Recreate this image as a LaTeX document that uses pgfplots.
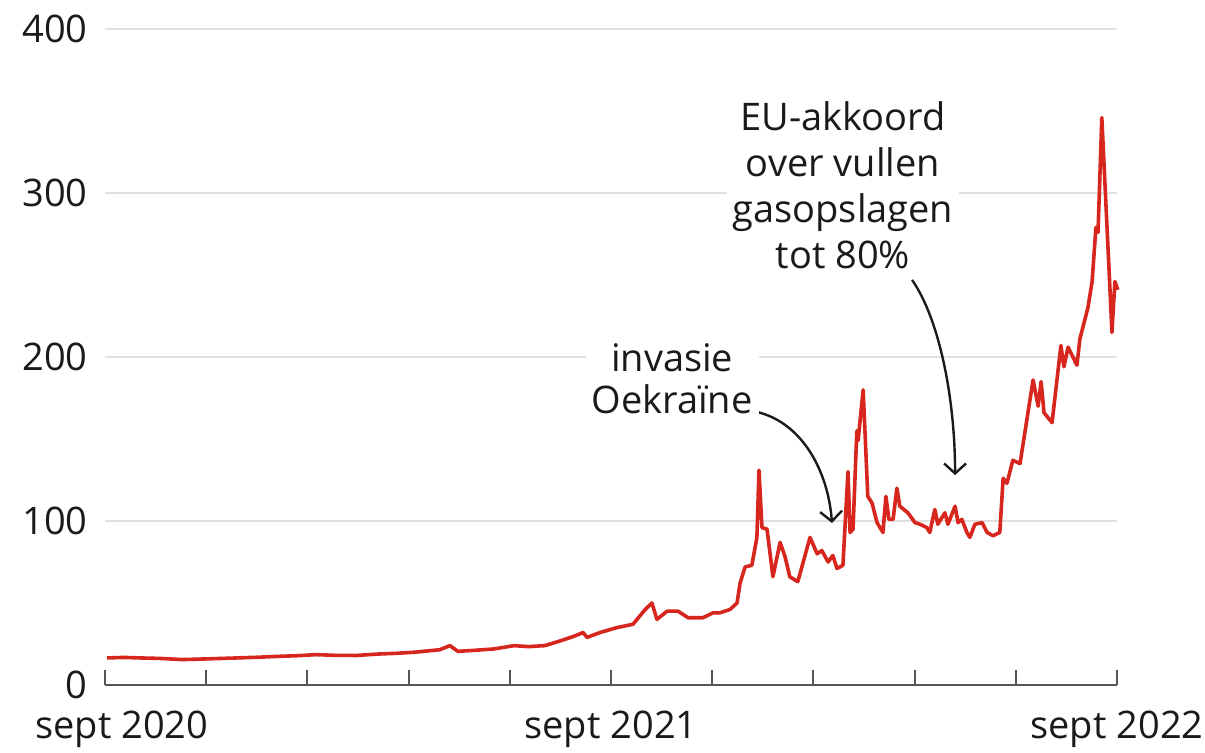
\documentclass[border=0pt]{standalone}
\usepackage{pgfplots}
\pgfplotsset{compat=1.18}
\usepackage{fontspec}
\setmainfont{Open Sans}
\usetikzlibrary{arrows.meta}
\definecolor{linered}{HTML}{D7261E}
\definecolor{gridgray}{HTML}{E0E0E0}
\definecolor{axisgray}{HTML}{555555}
\definecolor{txt}{HTML}{1A1A1A}

\pgfplotstableread{
m v
0.05 16.5
0.45 16.8
0.83 16.5
1.30 16.2
1.83 15.5
2.40 15.9
3.13 16.5
3.60 16.9
4.15 17.5
4.60 17.9
5.00 18.5
5.45 18.1
5.95 18.0
6.50 18.9
6.90 19.3
7.35 20.0
7.94 21.5
8.18 24.0
8.37 20.5
8.80 21.2
9.23 22.0
9.70 24.0
10.05 23.4
10.43 24.0
10.81 27.0
11.10 29.5
11.34 32.0
11.43 29.0
11.74 32.0
12.14 35.0
12.52 37.0
12.81 46.0
12.97 50.0
13.09 40.0
13.33 45.0
13.59 45.0
13.83 41.0
14.04 41.0
14.18 41.0
14.42 44.0
14.58 44.0
14.82 46.0
14.99 50.0
15.06 62.0
15.18 72.0
15.34 73.0
15.46 90.0
15.51 131.0
15.58 96.0
15.70 95.0
15.84 66.0
16.01 87.0
16.13 78.0
16.24 66.0
16.43 63.0
16.72 90.0
16.89 80.0
17.00 82.0
17.15 75.0
17.26 79.0
17.36 71.0
17.50 73.0
17.62 130.0
17.67 93.0
17.74 95.0
17.83 155.0
17.86 149.0
17.98 180.0
18.09 115.0
18.19 111.0
18.31 99.0
18.45 93.0
18.52 115.0
18.59 101.0
18.69 101.0
18.78 120.0
18.85 109.0
19.04 105.0
19.21 99.0
19.33 98.0
19.49 96.0
19.56 93.0
19.68 107.0
19.75 98.0
19.92 105.0
19.99 98.0
20.16 109.0
20.23 99.0
20.32 101.0
20.44 93.0
20.51 90.0
20.63 98.0
20.80 99.0
20.92 93.0
21.06 91.0
21.22 93.0
21.30 126.0
21.39 123.0
21.53 137.0
21.70 135.0
22.01 186.0
22.13 170.0
22.20 185.0
22.27 166.0
22.46 160.0
22.67 207.0
22.74 194.0
22.84 206.0
23.05 195.0
23.12 211.0
23.31 230.0
23.41 246.0
23.50 279.0
23.55 276.0
23.64 346.0
23.83 243.0
23.88 215.0
23.95 246.0
24.02 241.0
}\gasdata

\begin{document}
\begin{tikzpicture}
\begin{axis}[
  scale only axis, width=506pt, height=328pt,
  xmin=0, xmax=24, ymin=0, ymax=400,
  clip=false,
  axis x line=bottom, axis y line=left,
  axis line style={-},
  x axis line style={axisgray, line width=1pt},
  y axis line style={draw=none},
  ytick={0,100,200,300,400},
  yticklabels={0,100,200,300,400},
  ytick style={draw=none},
  ymajorgrids, grid style={gridgray, line width=1pt},
  xtick={0,2.4,4.8,7.2,9.6,12,14.4,16.8,19.2,21.6,24},
  xticklabels={\hspace{17pt}sept 2020,,,,,sept 2021,,,,,sept 2022},
  xtick style={axisgray, line width=1pt},
  tick align=inside, major tick length=7.5pt,
  tick label style={font=\fontsize{19}{19}\selectfont, text=txt},
  yticklabel style={inner sep=0pt, xshift=-8.5pt},
  xticklabel style={inner sep=0pt, yshift=-13pt},
]
\addplot[linered, line width=1.8pt, line join=round] table[x=m, y=v] {\gasdata};

\draw[txt, line width=1.2pt, -{Straight Barb[length=5pt,width=11pt]}]
  (axis cs:15.18,167.7) .. controls (axis cs:16.48,164.6) and (axis cs:17.15,131) .. (axis cs:17.24,98.8);
\draw[txt, line width=1.2pt, -{Straight Barb[length=5pt,width=11pt]}]
  (axis cs:19.14,247) .. controls (axis cs:19.80,222.6) and (axis cs:20.16,173.8) .. (axis cs:20.16,128);

\node[fill=white, align=center, text=txt, inner sep=3pt,
  font=\fontsize{19}{21}\selectfont] at (axis cs:13.45,187) {invasie\\Oekraïne};
\node[fill=white, align=center, text=txt, inner sep=3pt,
  font=\fontsize{19}{23}\selectfont] at (axis cs:17.50,305) {EU-akkoord\\over vullen\\gasopslagen\\tot 80\%};
\end{axis}
\path[use as bounding box] (-52.5pt,-34pt) rectangle (550pt,342.5pt);
\end{tikzpicture}
\end{document}
